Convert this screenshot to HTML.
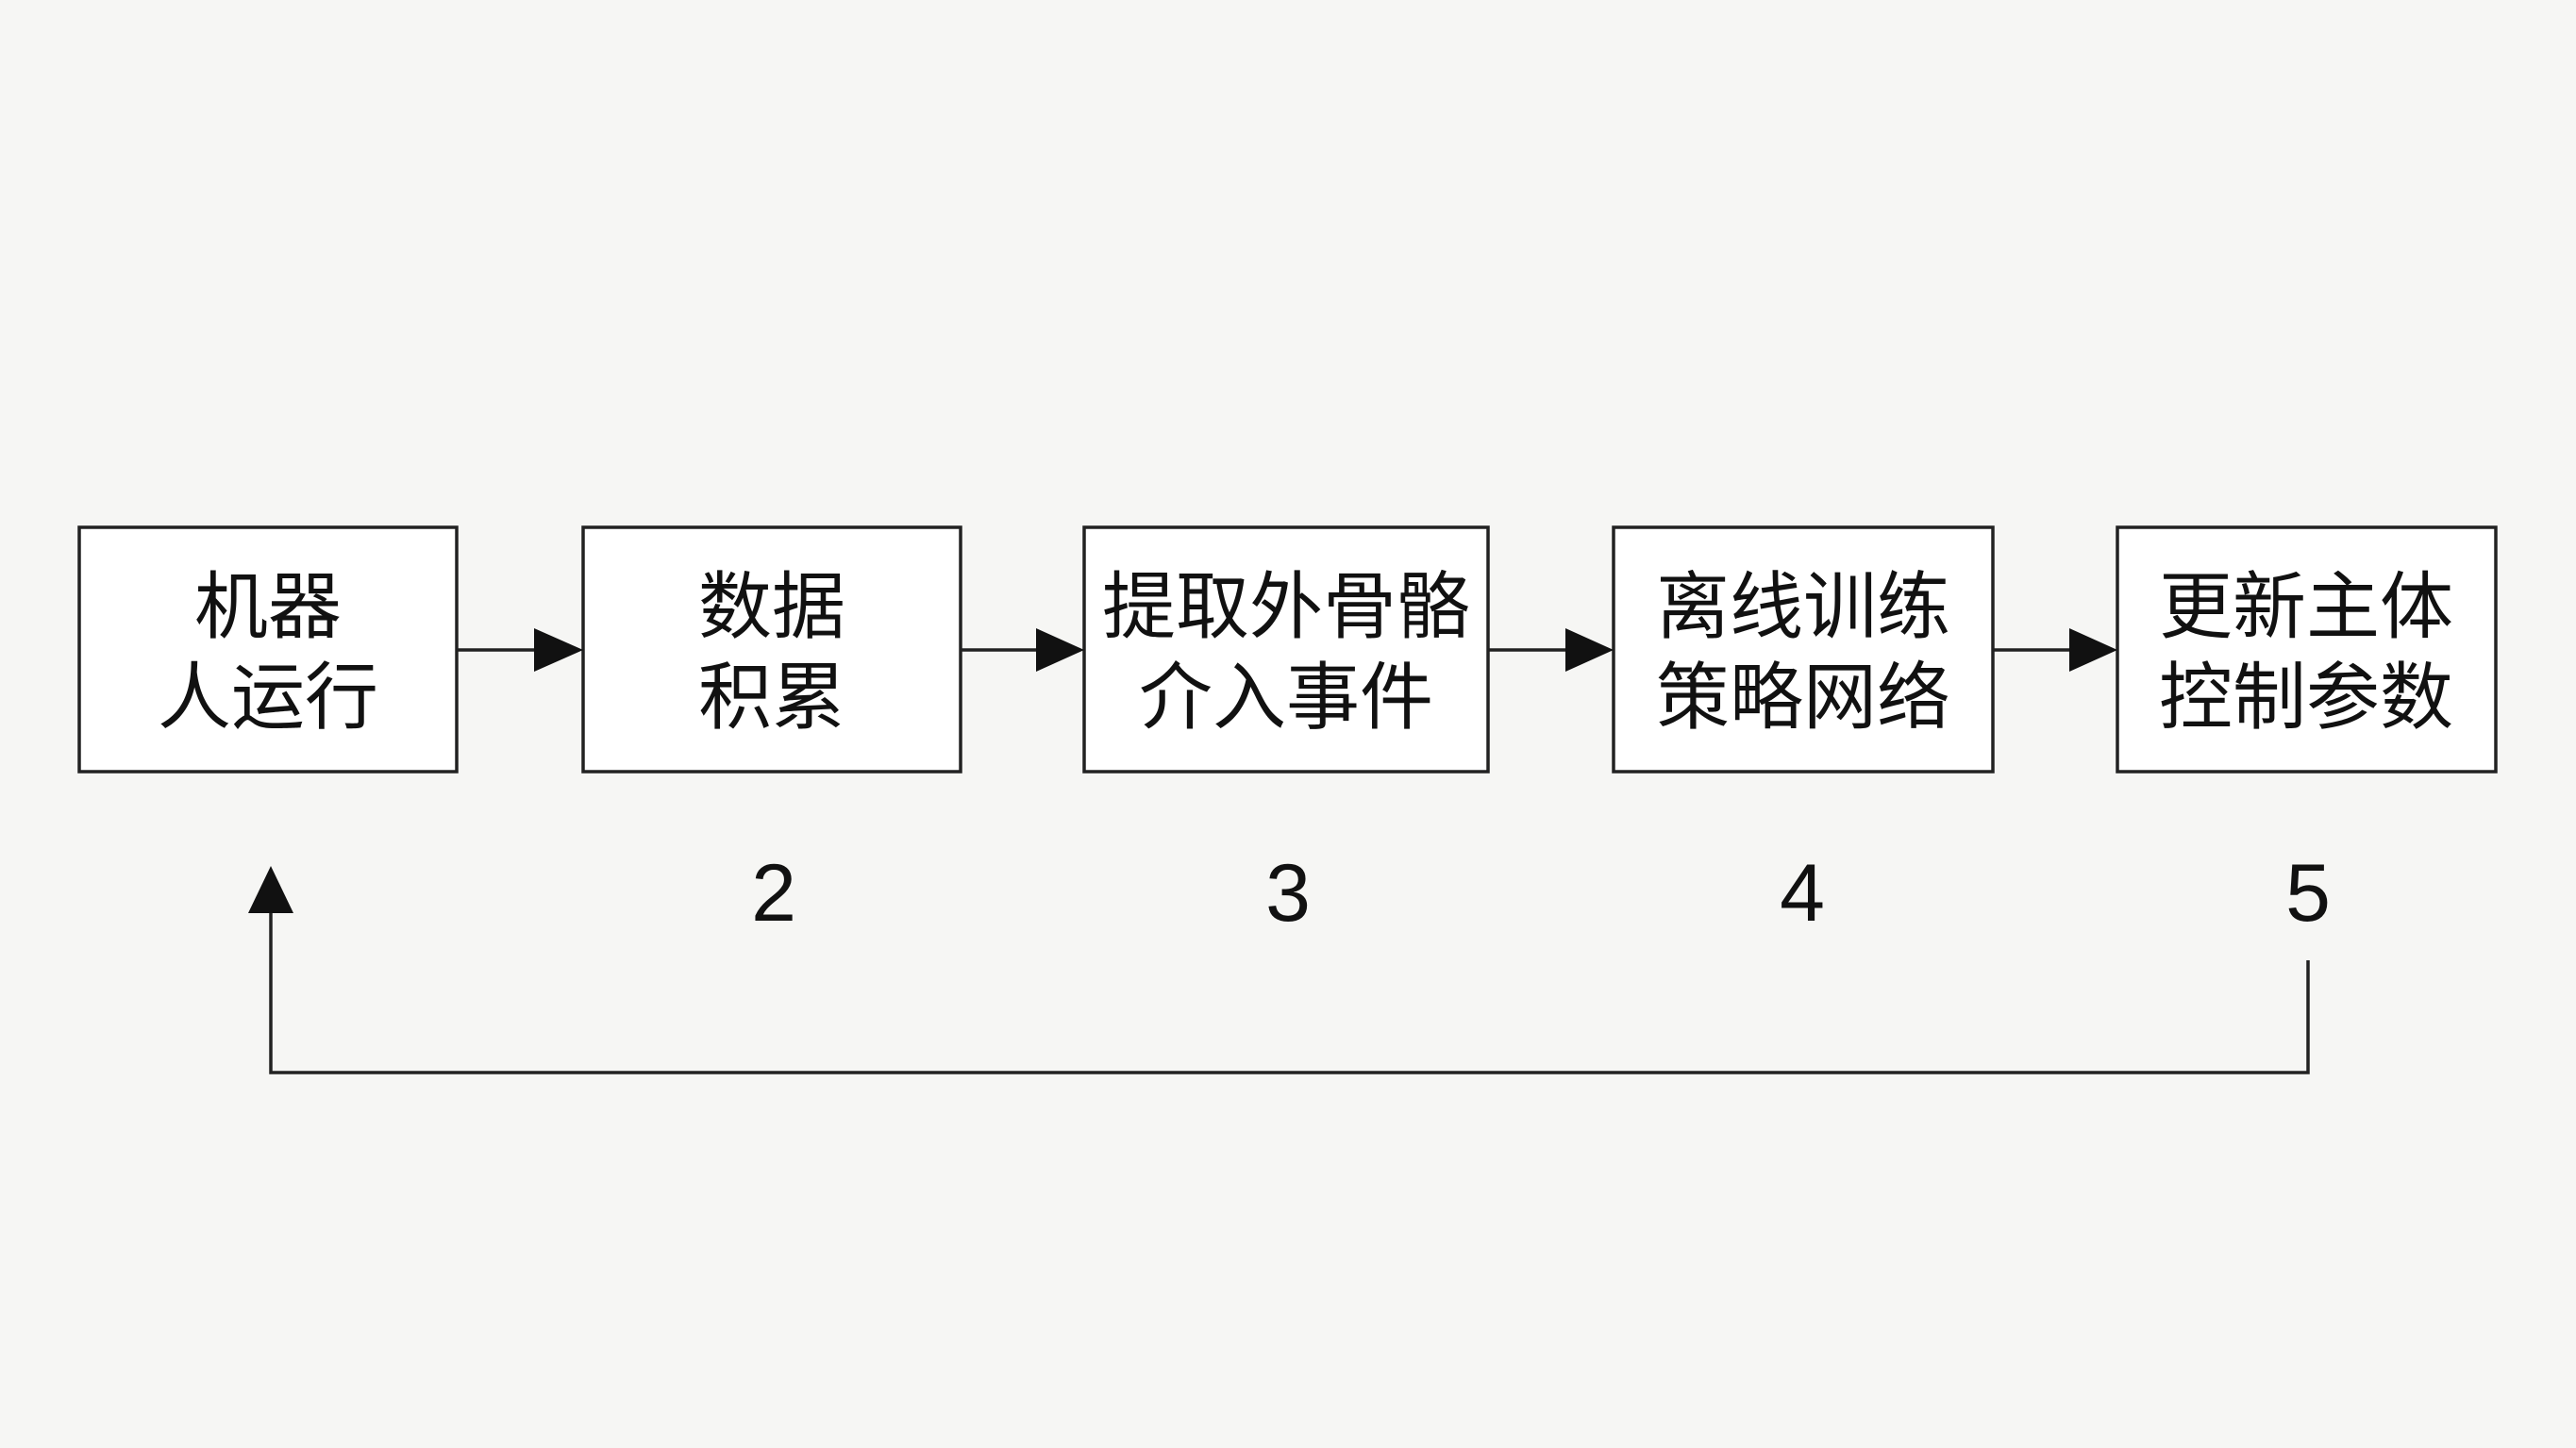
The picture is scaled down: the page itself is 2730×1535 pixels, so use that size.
<!DOCTYPE html>
<html><head><meta charset="utf-8"><style>
html,body{margin:0;padding:0;background:#f6f6f4;}
svg{display:block}
text{font-family:"Liberation Sans","Noto Sans CJK SC",sans-serif;fill:#111;}
</style></head><body>
<svg width="2730" height="1535" viewBox="0 0 2730 1535" xmlns="http://www.w3.org/2000/svg">
<rect width="2730" height="1535" fill="#f6f6f4"/>
<defs><marker id="a" markerWidth="10" markerHeight="10" refX="10" refY="5" orient="auto" markerUnits="userSpaceOnUse" viewBox="0 0 10 10"></marker></defs>
<g fill="#fff" stroke="#222" stroke-width="3.5">
<rect x="84" y="559" width="400" height="259"/>
<rect x="618" y="559" width="400" height="259"/>
<rect x="1149" y="559" width="428" height="259"/>
<rect x="1710" y="559" width="402" height="259"/>
<rect x="2244" y="559" width="401" height="259"/>
</g>
<g stroke="#222" stroke-width="3.5" fill="none">
<line x1="484" y1="689" x2="575" y2="689"/>
<line x1="1018" y1="689" x2="1106" y2="689"/>
<line x1="1577" y1="689" x2="1667" y2="689"/>
<line x1="2112" y1="689" x2="2200" y2="689"/>
<polyline points="2446,1018 2446,1137 287,1137 287,962"/>
</g>
<g fill="#111">
<polygon points="566,666 618,689 566,712"/>
<polygon points="1098,666 1149,689 1098,712"/>
<polygon points="1659,666 1710,689 1659,712"/>
<polygon points="2193,666 2244,689 2193,712"/>
<polygon points="263,968 287,918 311,968"/>
</g>
<g font-size="78" text-anchor="middle">
<text x="284" y="670">机器</text><text x="284" y="766">人运行</text>
<text x="818" y="670">数据</text><text x="818" y="766">积累</text>
<text x="1363" y="670">提取外骨骼</text><text x="1363" y="766">介入事件</text>
<text x="1911" y="670">离线训练</text><text x="1911" y="766">策略网络</text>
<text x="2444" y="670">更新主体</text><text x="2444" y="766">控制参数</text>
</g>
<g font-size="86" text-anchor="middle">
<text x="820" y="976">2</text>
<text x="1365" y="976">3</text>
<text x="1910" y="976">4</text>
<text x="2446" y="976">5</text>
</g>
</svg>
</body></html>
